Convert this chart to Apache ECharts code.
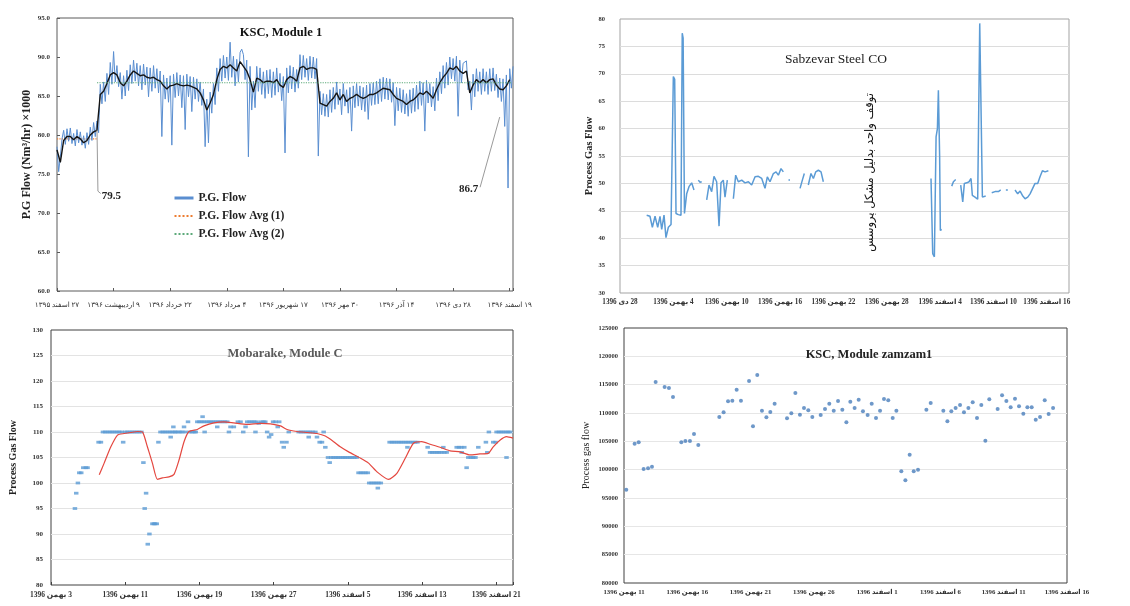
<!DOCTYPE html>
<html>
<head>
<meta charset="utf-8">
<script src="https://cdn.jsdelivr.net/npm/echarts@6/dist/echarts.min.js"></script>
<style>html,body{margin:0;padding:0;background:#fff}#c{width:1130px;height:606px}</style>
</head>
<body>
<div id="c"></div>
<script>
// ---------- tick labels ----------
const topLeftTicks = ['۲۷ اسفند ۱۳۹۵','۹ اردیبهشت ۱۳۹۶','۲۲ خرداد ۱۳۹۶','۴ مرداد ۱۳۹۶','۱۷ شهریور ۱۳۹۶','۳۰ مهر ۱۳۹۶','۱۴ آذر ۱۳۹۶','۲۸ دی ۱۳۹۶','۱۹ اسفند ۱۳۹۶'];
const topRightTicks = ['28 دی 1396','4 بهمن 1396','10 بهمن 1396','16 بهمن 1396','22 بهمن 1396','28 بهمن 1396','4 اسفند 1396','10 اسفند 1396','16 اسفند 1396'];
const bottomLeftTicks = ['3 بهمن 1396','11 بهمن 1396','19 بهمن 1396','27 بهمن 1396','5 اسفند 1396','13 اسفند 1396','21 اسفند 1396'];
const bottomRightTicks = ['11 بهمن 1396','16 بهمن 1396','21 بهمن 1396','26 بهمن 1396','1 اسفند 1396','6 اسفند 1396','11 اسفند 1396','16 اسفند 1396'];

// ---------- KSC Module 1 (days from 27 Esfand 1395) ----------
const kscStep = 43/34;      // sampling interval of raw flow (days)
const kscAvgStep = 43/17;   // sampling interval of moving average (days)
const kscFlow = [
78.5,75.3,77.2,79.5,80.6,78.8,80.8,79.2,80.9,78.9,80.2,78.6,80.7,79.0,80.4,78.7,79.9,78.3,80.3,78.8,
81.0,79.3,81.6,79.8,81.8,80.3,86.5,84.0,86.8,84.3,87.9,85.2,89.3,86.5,90.7,86.8,88.9,86.2,88.0,84.6,
87.6,85.0,88.3,85.7,89.0,86.6,89.6,86.9,89.2,86.3,88.9,85.8,89.1,86.4,88.7,84.9,88.6,85.6,88.9,86.0,
88.5,85.4,88.2,79.8,87.7,84.6,87.3,84.2,87.6,78.7,87.8,84.8,88.0,85.0,87.7,83.5,87.6,80.7,87.8,84.9,
87.5,83.0,87.4,84.6,87.2,84.3,86.8,83.8,85.9,78.5,84.6,79.0,85.5,82.8,86.6,83.9,88.6,85.6,89.8,86.9,
90.2,87.3,90.0,87.0,91.9,87.4,90.1,86.3,89.7,86.8,90.6,91.0,90.3,87.1,89.6,77.2,88.8,83.2,86.9,83.5,
88.8,85.6,88.6,85.2,88.1,84.7,88.3,85.3,88.4,84.8,88.1,85.1,88.6,85.5,87.9,84.4,87.5,77.7,88.6,85.4,
88.9,85.9,88.7,85.5,88.4,86.0,90.3,87.1,90.2,87.4,89.8,87.0,90.1,87.3,90.0,87.2,89.8,77.3,85.6,82.6,
85.3,82.4,85.2,82.3,85.8,82.9,86.1,83.3,86.8,83.9,85.9,82.6,86.6,83.7,85.8,82.8,86.1,80.5,86.3,83.5,
86.6,83.7,86.3,83.2,86.1,83.0,86.4,82.0,86.6,83.8,86.7,83.9,86.9,84.0,87.2,84.3,87.4,84.6,87.3,84.5,
87.2,84.2,86.7,81.2,86.1,83.1,86.0,82.9,85.8,82.7,85.3,82.4,85.8,82.8,86.0,83.0,86.4,83.3,86.9,83.8,
86.7,80.5,87.0,84.1,86.6,83.6,86.2,83.1,87.3,84.4,88.1,85.3,88.9,86.0,89.3,86.4,90.0,87.2,89.8,86.9,
90.1,82.4,89.6,86.7,89.2,89.0,89.5,85.8,86.9,83.2,87.8,84.9,88.5,85.6,88.1,85.2,88.5,85.6,88.1,85.2,
88.5,85.6,88.6,85.7,87.8,84.8,87.3,84.3,87.2,81.1,87.7,73.2,88.5,86.0,88.8
];
const kscAvg = [
78.1,76.5,79.3,79.8,79.8,79.4,79.8,79.5,79.0,79.3,
80.0,80.4,80.6,85.2,85.6,86.6,87.7,88.0,87.7,86.7,
86.3,86.9,87.7,88.2,87.9,87.6,87.7,87.4,87.3,87.4,
87.1,86.9,86.3,85.9,86.3,86.4,86.6,86.4,86.3,86.4,
86.3,86.1,85.9,85.4,84.5,83.2,84.1,85.2,87.1,88.4,
88.8,88.6,89.0,88.6,88.2,89.4,88.8,88.2,87.1,85.5,
87.3,87.1,86.7,86.9,86.9,86.7,87.1,86.4,86.1,87.1,
87.5,87.3,86.9,88.6,88.8,88.4,88.6,88.6,88.4,84.1,
83.9,83.7,84.3,84.7,85.4,84.5,85.2,84.3,84.7,84.9,
85.2,84.9,84.7,84.9,85.2,85.2,85.4,85.7,86.0,85.9,
85.8,85.2,84.7,84.5,84.3,83.9,84.3,84.5,84.9,85.4,
85.2,85.6,85.2,84.7,85.8,86.7,87.4,87.9,88.6,88.4,
88.8,88.2,87.9,88.2,85.4,86.4,87.1,86.7,87.1,86.7,
87.1,87.2,86.4,85.9,85.8,86.3,87.1
];
const avg1Value = 79.5, avg1Days = [0, 30.4];
const avg2Value = 86.7, avg2Days = [30.4, 345.5];

// ---------- Sabzevar Steel CO (days from 28 Dey) ----------
const sabzevar = [
[3.0,44.2],[3.37,44],[3.64,42],[3.94,44],[4.24,42],[4.5,44],[4.69,41.6],[4.95,44.2],[5.17,40.1],[5.44,42],[5.74,42.5],[5.89,42.8],
[6.0,69.5],[6.15,69.0],[6.3,44.5],[6.56,44.3],[6.86,44.2],[7.0,77.4],[7.1,76.5],[7.25,44.5],[7.42,44.6],[7.5,48.1],[7.76,49.4],[8.06,50.1],[8.32,48.8],
[8.5,'-'],
[8.81,50.6],[9.0,50.2],[9.19,50.3],
[9.5,'-'],
[9.75,47],[10.01,49.7],[10.31,48.5],[10.57,51.3],[10.87,50.3],[11.14,42.2],[11.36,50.1],[11.62,50.6],[11.81,47.5],[12.07,50.6],
[12.4,'-'],
[12.75,47.2],[13.01,51.5],[13.31,50.3],[13.69,50.6],[14.06,50.1],[14.44,50.3],[14.81,49.7],[15.19,51.2],[15.56,51.3],[15.94,50.9],
[16.31,49.1],[16.57,51.2],[16.87,50.3],[17.25,51.8],[17.55,52.1],[17.81,51.5],[18.11,52.7],[18.37,52.1],
[18.7,'-'],
[18.95,50.6],[19.12,50.6],
[19.6,'-'],
[20.25,49.1],[20.51,50.6],[20.73,51.8],
[20.95,'-'],
[21.18,49.7],[21.48,51.8],[21.75,50.9],[22.01,52.1],[22.31,52.4],[22.61,52.1],[22.87,50.3],
[28,'-'],
[34.98,50.9],[35.17,37.2],[35.36,36.6],[35.55,58.5],[35.7,60],[35.81,67],[35.95,55],[36.03,41.4],[36.18,41.6],
[36.8,'-'],
[37.31,49.5],[37.5,50.3],[37.76,50.7],
[38.0,'-'],
[38.32,49.7],[38.55,46.6],[38.73,50],[39.0,50.1],[39.26,50.3],[39.48,50.9],[39.63,47.8],[39.93,47.5],[40.23,47.1],[40.46,79.2],[40.6,79],[40.76,47.5],[41.13,47.7],
[41.5,'-'],
[41.81,48.3],[42.18,48.5],[42.56,48.5],[42.82,48.8],
[43.1,'-'],
[43.4,48.8],[43.62,48.8],
[44.0,'-'],
[44.43,48.8],[44.73,48.1],[45.0,48.6],[45.26,47.8],[45.56,47.2],[45.86,47.5],[46.12,48.1],[46.31,47.8],[46.68,50],[46.98,50],[47.24,51.2],[47.51,52.3],[47.81,52.1],[48.18,52.3]
];
const stopNote = 'توقف واحد بدلیل مشکل پروسس';

// ---------- Mobarake, Module C (days from 3 Bahman) ----------
const mobarakePts = [
[2.58,95],[2.72,98],[2.9,100],[3.05,102],[3.26,102],[3.48,103],[3.76,103],[3.94,103],
[5.13,108],[5.38,108],
[5.6,110],[5.85,110],[6.1,110],[6.35,110],[6.6,110],[6.85,110],[7.1,110],[7.35,110],[7.6,110],
[7.78,108],
[8.0,110],[8.25,110],[8.5,110],[8.75,110],[9.0,110],[9.25,110],[9.5,110],[9.75,110],
[9.96,104],[10.1,95],[10.25,98],[10.43,88],[10.61,90],[10.93,92],[11.1,92],[11.22,92],[11.4,92],
[11.58,108],
[11.8,110],[12.05,110],[12.3,110],[12.55,110],[12.8,110],[12.9,109],[13.05,110],[13.19,111],[13.3,110],
[13.45,110],[13.7,110],[13.95,110],[14.15,110],[14.34,111],[14.5,110],[14.77,112],[14.95,110],[15.2,110],[15.45,110],[15.6,110],
[15.77,112],[16.0,112],[16.24,112],[16.34,113],[16.49,112],[16.56,110],
[16.77,112],[17.0,112],[17.25,112],[17.5,112],[17.75,112],[17.92,111],[18.0,112],[18.25,112],[18.5,112],[18.75,112],[19.0,112],
[19.18,110],[19.35,111],[19.71,111],[20.14,112],[20.43,112],[20.72,110],[20.97,111],
[21.15,112],[21.4,112],[21.65,112],[21.9,112],[22.04,110],[22.15,112],[22.4,111.7],[22.65,112],[22.9,112],[23.1,112],[23.3,110],
[23.51,109],[23.73,109.5],[23.94,112],[24.2,112],[24.44,111],[24.6,112],
[24.91,108],[25.09,107],[25.38,108],[25.63,110],
[26.7,110],[26.95,110],[27.2,110],[27.45,110],[27.7,110],[27.78,109],[27.95,110],[28.2,110],[28.5,110],
[28.67,109],[28.96,108],[29.21,108],[29.39,110],[29.57,107],[29.86,105],[30.04,104],
[30.2,105],[30.45,105],[30.7,105],[30.95,105],[31.2,105],[31.45,105],[31.7,105],[31.95,105],[32.2,105],[32.45,105],[32.7,105],[32.95,105],
[33.15,102],[33.4,102],[33.65,102],[33.9,102],[34.15,102],
[34.3,100],[34.55,100],[34.8,100],[35.05,100],[35.23,99],[35.3,100],[35.55,100],
[36.5,108],[36.75,108],[37.0,108],[37.25,108],[37.5,108],[37.75,108],[38.0,108],[38.25,108],[38.42,107],[38.5,108],[38.75,108],[39.0,108],[39.25,108],[39.5,108],
[40.6,107],[40.86,106],[41.1,106],[41.35,106],[41.6,106],[41.85,106],[42.1,106],[42.29,107],[42.4,106],[42.65,106],
[43.73,107],[43.98,107],[44.23,107],[44.27,106],[44.55,107],[44.8,103],[44.98,105],[45.25,105],[45.5,105],[45.75,105],
[46.06,107],[46.88,108],[47.03,106],[47.2,110],[47.67,108],[47.92,108],
[48.03,110],[48.28,110],[48.53,110],[48.78,110],[49.03,110],[49.1,105],[49.28,110],[49.5,110],[49.82,107]
];
const mobarakeTrend = [
[5.2,101.6],[5.73,103.9],[6.45,107.1],[7.17,109.4],[7.89,109.7],[8.6,109.9],[9.32,110.1],[9.86,110],[10.39,107.1],[10.93,103.9],
[11.47,100.7],[12.01,101],[12.72,101.2],[13.26,101.7],[13.8,104.5],[14.34,108.1],[14.87,110.1],[15.77,110.5],[16.49,111.2],[17.56,111.8],
[18.64,112],[19.71,111.8],[21.15,111.5],[22.58,111.7],[23.66,111.6],[24.73,111.2],[25.45,110.5],[26.52,110.1],[27.6,109.9],[28.67,109.7],
[29.57,109.2],[30.47,108.1],[31.18,107.1],[32.08,106.1],[33.33,104.9],[34.23,103.9],[35.13,102.2],[36.38,100.7],[37.28,101.9],[38.17,104.8],
[39.07,107.8],[39.96,108.1],[40.86,107.6],[41.94,107],[43.01,106.3],[44.09,106.1],[45.16,105.5],[46.24,105.7],[47.13,105.8],[47.67,107.1],
[48.39,108.4],[49.1,109.1],[49.8,108.8]
];

// ---------- KSC, Module zamzam1 (days from 11 Bahman) ----------
const zamzamPts = [
[0.18,96470],[0.84,104590],[1.16,104820],[1.55,100120],[1.9,100240],[2.21,100530],[2.5,115470],[3.21,114590],[3.55,114410],[3.87,112820],
[4.53,104820],[4.85,105060],[5.21,105060],[5.53,106290],[5.87,104350],[7.53,109290],[7.87,110120],[8.22,112060],[8.56,112180],[8.9,114120],
[9.24,112180],[9.88,115650],[10.19,107650],[10.53,116710],[10.9,110410],[11.25,109240],[11.56,110180],[11.9,111650],[12.88,109060],[13.22,109940],
[13.54,113530],[13.9,109710],[14.22,110880],[14.56,110470],[14.88,109290],[15.54,109650],[15.88,110710],[16.22,111650],[16.57,110410],[16.91,112120],
[17.25,110590],[17.57,108350],[17.88,112000],[18.22,110880],[18.54,112350],[18.88,110290],[19.25,109650],[19.57,111650],[19.91,109120],[20.23,110410],
[20.54,112470],[20.88,112240],[21.23,109120],[21.52,110410],[21.91,99710],[22.23,98120],[22.57,102650],[22.89,99710],[23.23,100000],[23.89,110590],
[24.23,111760],[25.23,110410],[25.55,108530],[25.86,110290],[26.2,110880],[26.55,111410],[26.86,110120],[27.21,110880],[27.55,111880],[27.89,109120],
[28.23,111410],[28.55,105120],[28.86,112410],[29.52,110710],[29.87,113120],[30.21,112120],[30.55,111000],[30.89,112530],[31.21,111180],[31.55,109880],
[31.87,111000],[32.21,111000],[32.53,108820],[32.87,109290],[33.24,112240],[33.55,109820],[33.9,110880]
];

// ---------- build ----------
const FF = '"Liberation Serif","DejaVu Sans",serif';
const RLE = '\u202B', PDF = '\u202C';
function dateFmt(labels, step) {
  return function (v) {
    const i = Math.round(v / step);
    if (Math.abs(v - i * step) > 1e-6 || i < 0 || i >= labels.length) return '';
    return RLE + labels[i] + PDF;
  };
}
const lbl = (fs, w) => ({fontFamily: FF, fontSize: fs, fontWeight: w || 'bold', color: '#333', showMinLabel: true, showMaxLabel: true});

const option = {
  backgroundColor: '#fff',
  animation: false,
  textStyle: {fontFamily: FF},
  title: [
    {text: 'KSC, Module 1', left: 281, top: 26, padding: 0, textAlign: 'center', textStyle: {fontFamily: FF, fontSize: 12.5, fontWeight: 'bold', color: '#111'}},
    {text: 'Sabzevar Steel CO', left: 836, top: 52, padding: 0, textAlign: 'center', textStyle: {fontFamily: FF, fontSize: 13.5, fontWeight: 'normal', color: '#222'}},
    {text: 'Mobarake, Module C', left: 285, top: 347, padding: 0, textAlign: 'center', textStyle: {fontFamily: FF, fontSize: 12.5, fontWeight: 'bold', color: '#5a5a5a'}},
    {text: 'KSC, Module zamzam1', left: 869, top: 348, padding: 0, textAlign: 'center', textStyle: {fontFamily: FF, fontSize: 12.5, fontWeight: 'bold', color: '#222'}}
  ],
  legend: {
    left: 173, top: 192, padding: 0, orient: 'vertical', itemGap: 6, itemWidth: 19, itemHeight: 10,
    itemStyle: {opacity: 0},
    textStyle: {fontFamily: FF, fontWeight: 'bold', fontSize: 11.5, color: '#222'},
    data: [
      {name: 'P.G. Flow', lineStyle: {width: 3}},
      {name: 'P.G. Flow Avg (1)'},
      {name: 'P.G. Flow Avg (2)'}
    ]
  },
  grid: [
    {left: 57, top: 18, width: 456, height: 273, show: true, borderColor: '#5a5a5a', borderWidth: 1},
    {left: 620, top: 19, width: 449, height: 274, show: true, borderColor: '#a3a3a3', borderWidth: 1},
    {left: 51, top: 330, width: 462, height: 255, show: true, borderColor: '#404040', borderWidth: 1},
    {left: 624, top: 328, width: 443, height: 255, show: true, borderColor: '#404040', borderWidth: 1}
  ],
  xAxis: [
    {type: 'value', gridIndex: 0, min: 0, max: 346.5, interval: 43,
     axisLine: {show: false}, axisTick: {show: true, inside: true, length: 3, lineStyle: {color: '#5a5a5a'}},
     splitLine: {show: false}, axisLabel: Object.assign(lbl(7.2, 'normal'), {margin: 11, formatter: dateFmt(topLeftTicks, 43)})},
    {type: 'value', gridIndex: 1, min: 0, max: 50.5, interval: 6,
     axisLine: {show: false}, axisTick: {show: false}, splitLine: {show: false},
     axisLabel: Object.assign(lbl(7.2), {margin: 6, formatter: dateFmt(topRightTicks, 6)})},
    {type: 'value', gridIndex: 2, min: 0, max: 49.8, interval: 8,
     axisLine: {show: false}, axisTick: {show: true, inside: true, length: 3, lineStyle: {color: '#404040'}}, splitLine: {show: false},
     axisLabel: Object.assign(lbl(7.5), {margin: 6, formatter: dateFmt(bottomLeftTicks, 8)})},
    {type: 'value', gridIndex: 3, min: 0, max: 35, interval: 5,
     axisLine: {show: false}, axisTick: {show: false}, splitLine: {show: false},
     axisLabel: Object.assign(lbl(6.8), {margin: 6, formatter: dateFmt(bottomRightTicks, 5)})}
  ],
  yAxis: [
    {type: 'value', gridIndex: 0, min: 60, max: 95, interval: 5,
     axisLine: {show: false}, axisTick: {show: true, inside: true, length: 3, lineStyle: {color: '#5a5a5a'}}, splitLine: {show: false},
     axisLabel: Object.assign(lbl(7), {margin: 7, formatter: v => v.toFixed(1)}),
     name: 'P.G Flow (Nm³/hr) ×1000', nameLocation: 'middle', nameGap: 24,
     nameTextStyle: {fontFamily: FF, fontSize: 12, fontWeight: 'bold', color: '#222'}},
    {type: 'value', gridIndex: 1, min: 30, max: 80, interval: 5,
     axisLine: {show: false}, axisTick: {show: false},
     splitLine: {show: true, showMinLine: false, showMaxLine: false, lineStyle: {color: '#dcdcdc'}},
     axisLabel: Object.assign(lbl(6.5), {margin: 15}),
     name: 'Process Gas Flow', nameLocation: 'middle', nameGap: 23,
     nameTextStyle: {fontFamily: FF, fontSize: 10.5, fontWeight: 'bold', color: '#222'}},
    {type: 'value', gridIndex: 2, min: 80, max: 130, interval: 5,
     axisLine: {show: false}, axisTick: {show: false},
     splitLine: {show: true, showMinLine: false, showMaxLine: false, lineStyle: {color: '#e3e3e3'}},
     axisLabel: Object.assign(lbl(7), {margin: 8}),
     name: 'Process Gas Flow', nameLocation: 'middle', nameGap: 33,
     nameTextStyle: {fontFamily: FF, fontSize: 10, fontWeight: 'bold', color: '#222'}},
    {type: 'value', gridIndex: 3, min: 80000, max: 125000, interval: 5000,
     axisLine: {show: false}, axisTick: {show: false},
     splitLine: {show: true, showMinLine: false, showMaxLine: false, lineStyle: {color: '#e6e6e6'}},
     axisLabel: Object.assign(lbl(6.5), {margin: 6, formatter: v => String(v)}),
     name: 'Process gas flow', nameLocation: 'middle', nameGap: 33,
     nameTextStyle: {fontFamily: FF, fontSize: 10, fontWeight: 'normal', color: '#222'}}
  ],
  series: [
    {name: 'P.G. Flow Avg (1)', type: 'line', xAxisIndex: 0, yAxisIndex: 0, symbol: 'none', z: 1,
     lineStyle: {color: '#ed7d31', width: 1.2, type: 'dotted'}, itemStyle: {color: '#ed7d31'},
     data: avg1Days.map(d => [d, avg1Value])},
    {name: 'P.G. Flow', type: 'line', xAxisIndex: 0, yAxisIndex: 0, symbol: 'none', z: 2,
     lineStyle: {color: '#5a8ed0', width: 1}, itemStyle: {color: '#5a8ed0'},
     data: kscFlow.map((v, i) => [i * kscStep, v])},
    {name: 'moving', type: 'line', xAxisIndex: 0, yAxisIndex: 0, symbol: 'none', z: 3,
     lineStyle: {color: '#141414', width: 1.4},
     data: kscAvg.map((v, i) => [i * kscAvgStep, v])},
    {name: 'P.G. Flow Avg (2)', type: 'line', xAxisIndex: 0, yAxisIndex: 0, symbol: 'none', z: 4,
     lineStyle: {color: '#5daa7a', width: 1.2, type: 'dotted'}, itemStyle: {color: '#5daa7a'},
     data: avg2Days.map(d => [d, avg2Value]),
     markLine: {silent: true, symbol: ['none', 'none'], label: {show: false},
       lineStyle: {color: '#9a9a9a', width: 1, type: 'solid'},
       data: [
         [{coord: [30.4, 80.6]}, {coord: [31.1, 72.8]}],
         [{coord: [31.1, 72.8]}, {coord: [33.2, 72.5]}],
         [{coord: [321.5, 73.3]}, {coord: [336.4, 82.3]}]
       ]},
     markPoint: {silent: true, symbol: 'circle', symbolSize: 0,
       label: {show: true, fontFamily: FF, fontSize: 11, fontWeight: 'bold', color: '#222'},
       data: [
         {coord: [34.0, 72.1], value: 79.5, label: {position: 'right', distance: 0, formatter: '79.5'}},
         {coord: [320.0, 73.05], value: 86.7, label: {position: 'left', distance: 0, formatter: '86.7'}}
       ]}},
    {name: 'Sabzevar', type: 'line', xAxisIndex: 1, yAxisIndex: 1, symbol: 'none', connectNulls: false,
     lineStyle: {color: '#5b9bd5', width: 1.5}, itemStyle: {color: '#5b9bd5'},
     data: sabzevar,
     markPoint: {silent: true, symbol: 'circle', symbolSize: 0,
       label: {show: true, position: 'inside', rotate: 90, fontFamily: '"DejaVu Sans",sans-serif', fontSize: 11.5, color: '#111', formatter: stopNote},
       data: [{coord: [28.1, 52], value: 0}]}},
    {name: 'Mobarake', type: 'scatter', xAxisIndex: 2, yAxisIndex: 2, symbol: 'rect', symbolSize: [4.5, 2.8],
     itemStyle: {color: '#5b9bd5'}, data: mobarakePts},
    {name: 'MobarakeTrend', type: 'line', xAxisIndex: 2, yAxisIndex: 2, symbol: 'none', smooth: 0.2,
     lineStyle: {color: '#e4473f', width: 1.2}, data: mobarakeTrend},
    {name: 'Zamzam', type: 'scatter', xAxisIndex: 3, yAxisIndex: 3, symbol: 'circle', symbolSize: 4,
     itemStyle: {color: '#4a7ebb'}, data: zamzamPts}
  ]
};
const chart = echarts.init(document.getElementById('c'));
chart.setOption(option);
</script>
</body>
</html>
